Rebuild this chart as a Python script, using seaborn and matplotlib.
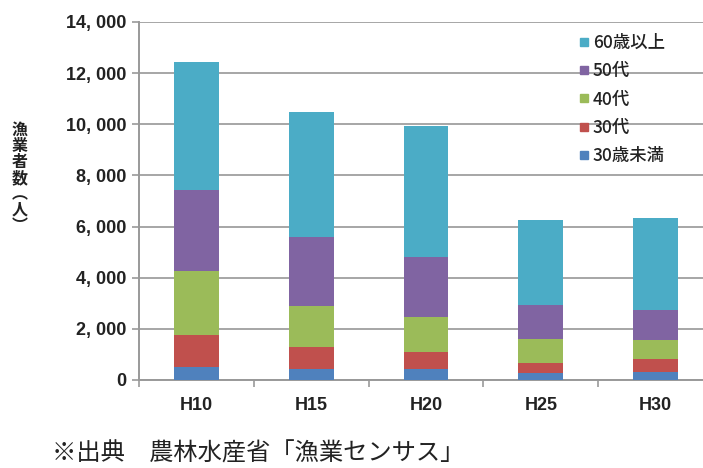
import matplotlib
matplotlib.use("Agg")
import matplotlib.pyplot as plt
import seaborn as sns
import pandas as pd
import numpy as np
from matplotlib.lines import Line2D
from matplotlib.ticker import FuncFormatter, MultipleLocator, FixedLocator

# ---- data ----
years = ["H10", "H15", "H20", "H25", "H30"]
under30 = [520, 420, 420, 290, 330]
age30s = [1255, 860, 680, 390, 480]
age40s = [2470, 1600, 1360, 910, 760]
age50s = [3175, 2720, 2350, 1360, 1150]
over60 = [5020, 4890, 5125, 3295, 3610]

series_names = ["30歳未満", "30代", "40代", "50代", "60歳以上"]
series_vals = [under30, age30s, age40s, age50s, over60]
colors = ["#4F81BD", "#C0504D", "#9BBB59", "#8064A2", "#4BACC6"]

df = pd.DataFrame({n: v for n, v in zip(series_names, series_vals)}, index=years)
cum = df.cumsum(axis=1)

sns.set_theme(style="white")
plt.rcParams['font.family'] = ['Noto Sans CJK JP', 'DejaVu Sans']

fig = plt.figure(figsize=(7.03, 4.68), dpi=100)
W, H = 703, 468
ax = fig.add_axes([139 / W, 1 - 380 / H, 574 / W, 358 / H])

# draw from top layer down so lower layers overlay
for name, col in reversed(list(zip(series_names, colors))):
    d = pd.DataFrame({"year": years, "val": cum[name].values})
    sns.barplot(data=d, x="year", y="val", color=col, width=0.39,
                saturation=1, ax=ax, zorder=3, linewidth=0)

ax.set_ylim(0, 14000)
ax.set_xlim(-0.5, 4.5)
ax.yaxis.set_major_locator(MultipleLocator(2000))
ax.yaxis.set_major_formatter(FuncFormatter(lambda v, p: f"{int(v):,}".replace(",", ", ")))
ax.grid(axis="y", color="#A6A6A6", linewidth=1.4, zorder=0)
ax.set_axisbelow(True)
ax.set_xlabel("")
ax.set_ylabel("")

for s in ["top", "right"]:
    ax.spines[s].set_visible(False)
for s in ["left", "bottom"]:
    ax.spines[s].set_color("#999999")
    ax.spines[s].set_linewidth(1.4)

ax.tick_params(axis="y", which="major", length=5, width=1.2, color="#999999",
               direction="out", pad=4, left=True)
ax.tick_params(axis="x", which="major", length=0, pad=12)
ax.xaxis.set_minor_locator(FixedLocator([-0.5, 0.5, 1.5, 2.5, 3.5, 4.5]))
ax.tick_params(axis="x", which="minor", length=5, width=1.2, color="#999999",
               direction="out", bottom=True)

for lab in ax.get_yticklabels():
    lab.set_fontfamily("Liberation Sans")
    lab.set_fontweight("bold")
    lab.set_fontsize(13)
    lab.set_color("#222222")
for lab in ax.get_xticklabels():
    lab.set_fontfamily("Liberation Sans")
    lab.set_fontweight("bold")
    lab.set_fontsize(13)
    lab.set_color("#222222")

# vertical y label
fig.text(20 / W, 1 - 178 / H, "漁\n業\n者\n数\n︵\n人\n︶", ha="center", va="center",
         fontsize=11.5, linespacing=1.0, color="#222222", fontweight="bold",
         family=['Noto Sans CJK JP', 'DejaVu Sans'])

# legend
handles = [Line2D([], [], marker="s", linestyle="none", markersize=6,
                  markerfacecolor=c, markeredgecolor=c) for c in reversed(colors)]
labels = list(reversed(series_names))
leg = ax.legend(handles, labels, loc="upper left",
                bbox_to_anchor=(571 / W, 1 - 25 / H), bbox_transform=fig.transFigure,
                frameon=False, borderpad=0, handlelength=0.5, handletextpad=0.25,
                labelspacing=0.6, prop={"family": ['Noto Sans CJK JP', 'DejaVu Sans'],
                                        "size": 12.5, "weight": "medium"})
for t in leg.get_texts():
    t.set_color("#222222")

# source note
fig.text(52 / W, 1 - 454 / H, "※出典　農林水産省「漁業センサス」", ha="left", va="center",
         fontsize=17.5, color="#222222", family=['Noto Sans CJK JP', 'DejaVu Sans'])

fig.savefig("out.png", dpi=100)
